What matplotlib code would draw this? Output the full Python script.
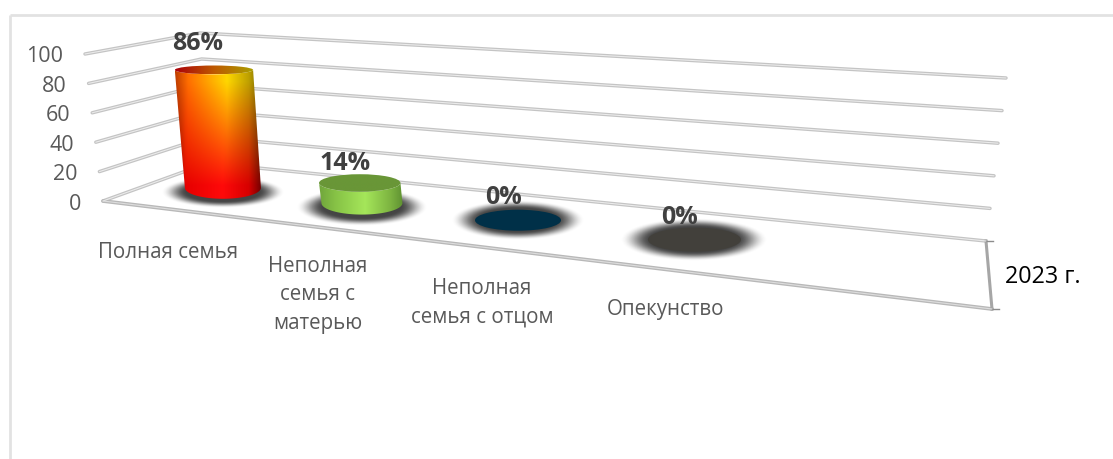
import numpy as np
import matplotlib
matplotlib.use("Agg")
import matplotlib.pyplot as plt
from matplotlib.path import Path
from matplotlib.patches import PathPatch, Ellipse

categories = ["Полная семья", "Неполная\nсемья с\nматерью", "Неполная\nсемья с отцом", "Опекунство"]
values = [86, 14, 0, 0]
value_labels = ["86%", "14%", "0%", "0%"]
value_ticks = [0, 20, 40, 60, 80, 100]
series_name = "2023 г."

plt.rcParams['font.family'] = ['Open Sans', 'DejaVu Sans']
W, H = 1113, 459
fig = plt.figure(figsize=(W/100, H/100), dpi=100)
ax = fig.add_axes([0, 0, 1, 1])
ax.set_axis_off()

# perspective frame of the chart box, in pixels
FLOOR = np.array([[103, 201], [992, 309], [986, 241], [208, 163]], float)
TOP = np.array([[85, 54], [1015, 124], [1006, 78], [200, 33]], float)
N_SLOTS = 4.92
LEAN = 0.55
RISE = 0.97

def homography(q):
    s = np.array([[0, 0], [1, 0], [1, 1], [0, 1]], float)
    A, b = [], []
    for (u, v), (x, y) in zip(s, q):
        A.append([u, v, 1, 0, 0, 0, -u*x, -v*x]); b.append(x)
        A.append([0, 0, 0, u, v, 1, -u*y, -v*y]); b.append(y)
    return np.append(np.linalg.solve(np.array(A), np.array(b)), 1).reshape(3, 3)

HF, HT = homography(FLOOR), homography(TOP)

def proj(u, d, v):
    def ap(M):
        p = M @ np.array([u, d, 1.0])
        return p[:2] / p[2]
    a, b = ap(HF), ap(HT)
    return a + (b - a) * v / 100.0

def grid(pts, c1='#c4c4c4', c2='#ececec', lw=2.5, z=2):
    xs, ys = zip(*pts)
    ax.plot(xs, ys, color=c1, lw=lw, solid_capstyle='round', solid_joinstyle='round', zorder=z)
    ax.plot(xs, ys, color=c2, lw=lw*0.3, solid_capstyle='round', zorder=z+0.1)

def shadow(cx, cy, rx, ry, z=3):
    yy, xx = np.mgrid[-1:1:120j, -1:1:240j]
    r = np.hypot(xx, yy)
    s = np.clip((1 - r) / 0.42, 0, 1)
    a = s * s * (3 - 2 * s)
    img = np.zeros(r.shape + (4,))
    img[..., :3] = 0.27
    img[..., 3] = a
    ax.imshow(img, extent=(cx-rx, cx+rx, cy+ry, cy-ry), aspect='auto', zorder=z, interpolation='bilinear')

def arc(cx, cy, rx, ry, a0, a1, n=60):
    t = np.linspace(a0, a1, n)
    return np.c_[cx + rx*np.cos(t), cy + ry*np.sin(t)]

def hgrad(stops, n=256):
    pos, cols = zip(*stops)
    cols = np.array(cols, float) / 255
    x = np.linspace(0, 1, n)
    return np.stack([np.interp(x, pos, cols[:, i]) for i in range(3)], axis=-1)

def cylinder(base, top, rx0, rx1, ry0, ry1, body, topimg):
    left = min(base[0]-rx0, top[0]-rx1); right = max(base[0]+rx0, top[0]+rx1)
    pts = np.vstack([[top[0]-rx1, top[1]], arc(base[0], base[1], rx0, ry0, np.pi, 0), [top[0]+rx1, top[1]],
                     arc(top[0], top[1], rx1, ry1, 0, np.pi)])
    path = Path(np.vstack([pts, pts[0]]), closed=True)
    patch = PathPatch(path, transform=ax.transData, fc='none', ec='none')
    ax.add_patch(patch)
    im = ax.imshow(body, extent=(left, right, base[1]+ry0, top[1]-ry1), aspect='auto', zorder=4, interpolation='bilinear')
    im.set_clip_path(patch)
    e = Ellipse(top, 2*rx1, 2*ry1, transform=ax.transData, fc='none', ec='none')
    ax.add_patch(e)
    im2 = ax.imshow(topimg, extent=(top[0]-rx1, top[0]+rx1, top[1]+ry1, top[1]-ry1), aspect='auto', zorder=5, interpolation='bilinear')
    im2.set_clip_path(e)

# chart box
ax.plot([10, 10], [H, 14.5], color='#e2e2e2', lw=2, zorder=1, solid_capstyle='butt')
ax.plot([10, W], [14.5, 14.5], color='#e2e2e2', lw=2, zorder=1, solid_capstyle='butt')

# gridlines through the wall and the back plane
for v in value_ticks:
    grid([proj(0, 0, v), proj(0, 1, v), proj(1, 1, v)])
grid([proj(0, 0, 0), proj(1, 0, 0)], c1='#b8b8b8', c2='#dddddd', lw=2.7)

# series bracket
p0 = proj(1, 1, 0); p1 = proj(1, 0, 0)
ax.plot([p0[0], p1[0]], [p0[1], p1[1]], color='#a6a6a6', lw=2.2, zorder=2)
ax.plot([p0[0], p0[0]+7], [p0[1], p0[1]], color='#8c8c8c', lw=1, zorder=2)
ax.plot([p1[0], p1[0]+7], [p1[1], p1[1]], color='#8c8c8c', lw=1, zorder=2)

# value axis labels
for v in value_ticks:
    p = proj(0, 0, v)
    ax.text(p[0]-22, p[1]+3, str(v), ha='right', va='center', fontsize=15.5, color='#595959')

# 3D cylinders
rx_base = [38, 40.5, 43, 46.5]
ry_base = [11, 11.5, 10.5, 12]
shadow_r = [(62, 16), (66, 19), (67, 20), (74, 21)]
flat_col = [None, None, (0, 48, 72), (66, 64, 59)]
label_xy = [(198, 43), (345, 163), (503, 197), (680, 218)]
cat_xy = [(168, 252), (318, 295), (482, 303), (666, 310)]

for i, v in enumerate(values):
    u = (i + 0.5) / N_SLOTS
    base = proj(u, 0.5, 0)
    top = proj(u, 0.5, v)
    top = base + (top - base) * np.array([LEAN, RISE])
    rx0 = rx_base[i]; ry0 = ry_base[i]
    rx1 = rx0 * (1 + 0.03 * v / 86)
    ry1 = ry0 * (1 - 0.6 * (v / 86) ** 0.5)
    sr = shadow_r[i]
    shadow(base[0], base[1] + (4 if i < 2 else 0), sr[0], sr[1])
    if i == 0:
        a = hgrad([(0, (190, 60, 0)), (.15, (255, 110, 0)), (.6, (255, 215, 0)), (.85, (190, 160, 0)), (1, (110, 100, 0))])
        b = hgrad([(0, (120, 0, 0)), (.12, (230, 0, 0)), (.55, (255, 10, 10)), (.85, (215, 0, 0)), (1, (110, 0, 0))])
        t = np.linspace(0, 1, 200)[:, None, None]
        t = np.clip((t - 0.12) / 0.78, 0, 1)
        body = a[None] * (1 - t) + b[None] * t
        tp = hgrad([(0, (170, 0, 10)), (.5, (190, 90, 0)), (1, (170, 160, 0))])[None]
        cylinder(base, top, rx0, rx1, ry0, ry1, body, tp)
    elif i == 1:
        g = hgrad([(0, (112, 165, 60)), (.2, (135, 195, 70)), (.55, (165, 230, 90)), (.85, (125, 180, 65)), (1, (95, 145, 50))])[None]
        tp = hgrad([(0, (105, 150, 55)), (1, (105, 150, 55))])[None]
        cylinder(base, top, rx0, rx1, ry0, ry1, g, tp)
    else:
        ax.add_patch(Ellipse(base, 2*rx0, 2*ry0, fc=np.array(flat_col[i])/255, ec='none', zorder=5))
    ax.text(label_xy[i][0], label_xy[i][1], value_labels[i], ha='center', va='center',
            fontsize=18, fontweight='bold', color='#404040', zorder=7)
    ax.text(cat_xy[i][0], cat_xy[i][1], categories[i], ha='center', va='center', fontsize=14.8,
            color='#595959', linespacing=1.5, zorder=7)

ax.text(1005, 277, series_name, ha='left', va='center', fontsize=16.8, color='black')

ax.set_xlim(0, W)
ax.set_ylim(H, 0)
fig.savefig("out.png", dpi=100, facecolor='white')
